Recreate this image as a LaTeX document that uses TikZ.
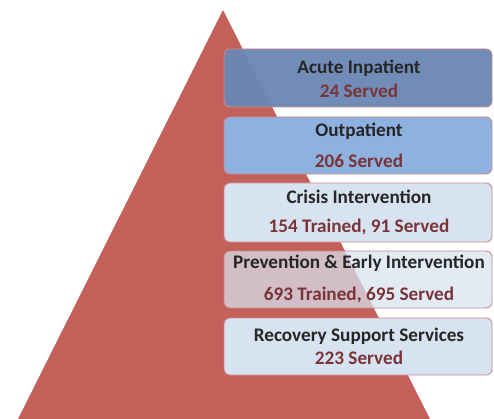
\documentclass[tikz,border=0pt]{standalone}
\usepackage{fontspec}
\setmainfont{Carlito}
\begin{document}
\begin{tikzpicture}[x=1pt,y=-1pt,
  tri/.style={fill=tricol,draw=none},
  tierbox/.style={draw=edgecol,line width=0.9pt,rounded corners=6pt},
  title/.style={font=\bfseries\fontsize{19.2}{21}\selectfont,text=black!85,inner sep=0pt,anchor=center},
  count/.style={font=\bfseries\fontsize{19.2}{21}\selectfont,text=numcol,inner sep=0pt,anchor=center}]
\definecolor{tricol}{HTML}{C4605A}
\definecolor{edgecol}{HTML}{C98A8C}
\definecolor{darkblue}{HTML}{6A87B4}
\definecolor{midblue}{HTML}{8EB1DF}
\definecolor{lightblue}{HTML}{D8E3F1}
\definecolor{numcol}{HTML}{7A3438}
\useasboundingbox (0,0) rectangle (494,419);
\fill[white] (0,0) rectangle (494,419);
\coordinate (apex) at (223,10);
\coordinate (bl) at (18,419);
\coordinate (br) at (430,419);
\path[tri] (apex) -- (br) -- (bl) -- cycle;
% boxes
\path[tierbox,fill=darkblue,fill opacity=0.95] (224,49) rectangle (492,107);
\path[tierbox,fill=midblue] (224,117) rectangle (492,174);
\path[tierbox,fill=lightblue] (224,183) rectangle (492,242);
\path[tierbox,fill=lightblue,fill opacity=0.72] (224,251) rectangle (492,308);
\path[tierbox,fill=lightblue] (224,318) rectangle (492,375);
% texts
\node[title] (t1) at (359,68) {Acute Inpatient};
\node[count] (c1) at (359,91) {24 Served};
\node[title] (t2) at (359,131) {Outpatient};
\node[count] (c2) at (359,161) {206 Served};
\node[title] (t3) at (359,197) {Crisis Intervention};
\node[count] (c3) at (359,227) {154 Trained, 91 Served};
\node[title] (t4) at (359,263) {Prevention \& Early Intervention};
\node[count] (c4) at (359,295) {693 Trained, 695 Served};
\node[title] (t5) at (359,336) {Recovery Support Services};
\node[count] (c5) at (359,358) {223 Served};
\end{tikzpicture}
\end{document}
